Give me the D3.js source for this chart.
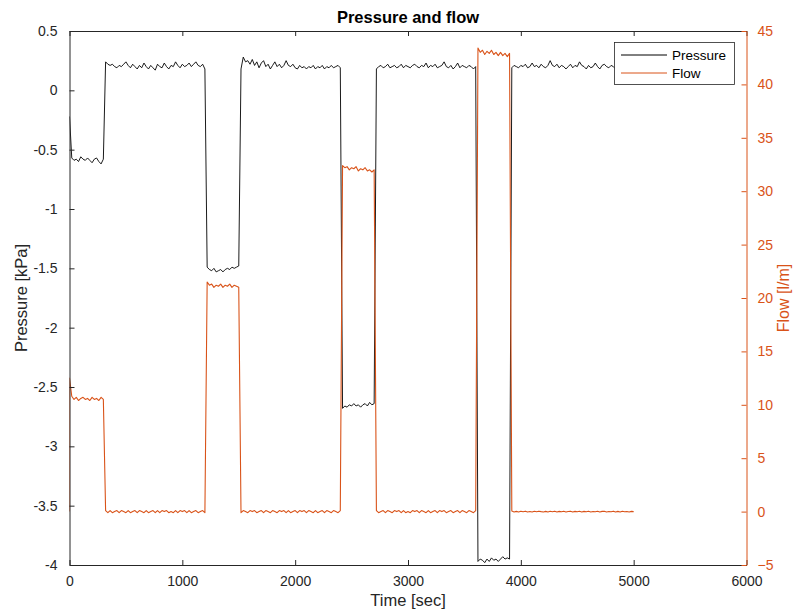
<!DOCTYPE html>
<html>
<head>
<meta charset="utf-8">
<script src="https://cdn.jsdelivr.net/npm/d3@7/dist/d3.min.js"></script>
<style>
  html, body { margin: 0; padding: 0; background: #fff; }
  svg { display: block; font-family: "Liberation Sans", Arial, Helvetica, sans-serif; }
</style>
</head>
<body>
<svg id="chart" width="793" height="612"></svg>
<script>
// ---------------- DATA ----------------
const titleText = "Pressure and flow";
const xLabel = "Time [sec]";
const yLeftLabel = "Pressure [kPa]";
const yRightLabel = "Flow [l/m]";
const seriesNames = ["Pressure", "Flow"];

const xTicks = [0, 1000, 2000, 3000, 4000, 5000, 6000];
const yLeftTicks = [-4, -3.5, -3, -2.5, -2, -1.5, -1, -0.5, 0, 0.5];
const yLeftTickLabels = ["-4", "-3.5", "-3", "-2.5", "-2", "-1.5", "-1", "-0.5", "0", "0.5"];
const yRightTicks = [-5, 0, 5, 10, 15, 20, 25, 30, 35, 40, 45];

// sampling interval of the recordings (sec)
const sampleStep = 20;

// Pressure [kPa], one sample every 20 s from t = 0 to t = 5000
const pressure = [
  -0.22,
  -0.57,-0.59,-0.58,-0.60,-0.56, -0.58,-0.59,-0.57,-0.59,-0.61, -0.58,-0.57,-0.60,-0.62,-0.58,
  0.24,0.22,0.21,0.22,0.20, 0.19,0.21,0.20,0.22,0.24, 0.21,0.19,0.22,0.20,0.18,
  0.21,0.19,0.23,0.20,0.18, 0.21,0.19,0.17,0.22,0.20, 0.19,0.23,0.20,0.18,0.21,
  0.20,0.24,0.21,0.19,0.22, 0.20,0.21,0.23,0.20,0.22, 0.24,0.21,0.20,0.22,0.18,
  -1.49,-1.51,-1.52,-1.50,-1.53, -1.52,-1.51,-1.53,-1.51,-1.50, -1.51,-1.49,-1.50,-1.49,-1.48,
  0.18,0.28,0.24,0.25,0.22, 0.26,0.21,0.24,0.19,0.23, 0.25,0.20,0.22,0.18,0.21,
  0.24,0.20,0.22,0.19,0.21, 0.25,0.21,0.20,0.22,0.19, 0.18,0.21,0.19,0.20,0.18,
  0.20,0.19,0.21,0.18,0.20, 0.19,0.21,0.18,0.20,0.19, 0.21,0.19,0.20,0.21,0.19,
  -2.68,-2.66,-2.67,-2.65,-2.66, -2.64,-2.66,-2.65,-2.67,-2.65, -2.64,-2.66,-2.63,-2.65,-2.64,
  0.18,0.20,0.21,0.19,0.20, 0.22,0.19,0.20,0.21,0.19, 0.20,0.22,0.19,0.21,0.20,
  0.19,0.21,0.22,0.20,0.19, 0.21,0.20,0.23,0.19,0.21, 0.20,0.22,0.19,0.20,0.21,
  0.24,0.20,0.19,0.21,0.18, 0.20,0.23,0.19,0.21,0.20, 0.19,0.21,0.20,0.18,0.20,
  -3.97,-3.95,-3.96,-3.98,-3.95, -3.97,-3.94,-3.96,-3.95,-3.97, -3.95,-3.93,-3.95,-3.94,-3.95,
  0.19,0.21,0.20,0.19,0.21, 0.20,0.22,0.19,0.20,0.23, 0.20,0.21,0.19,0.22,0.20,
  0.19,0.21,0.25,0.21,0.20, 0.22,0.19,0.21,0.20,0.18, 0.20,0.22,0.19,0.21,0.20,
  0.24,0.21,0.20,0.18,0.21, 0.19,0.20,0.23,0.20,0.18, 0.21,0.22,0.20,0.19,0.21,
  0.20,0.18,0.21,0.20,0.22, 0.19,0.21,0.20,0.19,0.20
];

// Flow [l/m]: value at the very start of the record (before the first sample settles)
const flowStart = 0;
// Flow [l/m], one sample every 20 s from t = 0 to t = 5000
const flow = [
  12.5,
  10.8,10.5,10.7,10.4,10.6, 10.7,10.5,10.6,10.4,10.7, 10.5,10.6,10.4,10.7,10.5,
  0.1,-0.1,0.1,-0.1,0.0, 0.1,-0.1,0.1,0.0,-0.1, 0.1,-0.1,0.0,0.1,-0.1,
  0.1,0.0,-0.1,0.1,-0.1, 0.0,0.1,-0.1,0.1,-0.1, 0.1,0.0,0.1,-0.1,0.0,
  -0.1,0.1,-0.1,0.1,0.0, 0.1,-0.1,0.1,-0.1,0.0, 0.1,-0.1,0.0,0.1,-0.1,
  21.5,21.2,21.3,21.0,21.2, 21.1,21.3,21.0,21.2,21.1, 21.3,21.0,21.2,21.1,21.0,
  -0.1,0.1,0.0,-0.1,0.1, 0.0,0.1,-0.1,0.0,0.1, -0.1,0.1,0.0,-0.1,0.1,
  0.0,-0.1,0.1,0.0,0.1, -0.1,0.1,-0.1,0.0,0.1, -0.1,0.1,0.0,0.1,-0.1,
  0.1,0.0,-0.1,0.1,-0.1, 0.0,0.1,-0.1,0.1,0.0, -0.1,0.1,0.0,-0.1,0.1,
  32.4,32.2,32.3,32.0,32.2, 32.1,32.3,31.9,32.1,32.0, 32.2,31.9,32.0,31.8,32.0,
  0.1,-0.1,0.0,0.1,-0.1, 0.1,0.0,-0.1,0.1,0.0, 0.1,-0.1,0.1,-0.1,0.0,
  -0.1,0.1,0.0,0.1,-0.1, 0.1,0.0,-0.1,0.1,-0.1, 0.0,0.1,-0.1,0.1,0.0,
  0.1,-0.1,0.0,0.1,-0.1, 0.0,0.1,-0.1,0.1,0.0, -0.1,0.1,0.0,-0.1,0.1,
  43.4,43.0,43.2,42.8,43.1, 42.9,43.2,42.8,43.0,42.7, 43.0,42.7,42.9,42.6,42.9,
  0.05,-0.03,0.02,-0.04,0.03, -0.02,0.04,-0.03,0.01,-0.04, 0.03,-0.02,0.04,0.00,-0.03,
  0.02,-0.04,0.03,-0.01,0.04, -0.03,0.02,-0.02,0.03,-0.04, 0.01,0.04,-0.03,0.02,-0.02,
  0.03,-0.04,0.02,-0.01,0.04, -0.03,0.01,-0.02,0.03,-0.04, 0.02,0.03,-0.03,0.01,-0.02,
  0.04,-0.03,0.02,-0.04,0.03, -0.02,0.01,-0.03,0.02,0.00
];

// ---------------- DRAWING ----------------
const W = 793, H = 612;
const plot = { left: 69.5, right: 746.5, top: 31, bottom: 565 };
const axisColor = "#262626";
const flowColor = "#D95319";
const pressureColor = "#000000";
const tickLen = 5;

const svg = d3.select("#chart");

const x = d3.scaleLinear().domain([0, 6000]).range([plot.left, plot.right]);
const yL = d3.scaleLinear().domain([-4, 0.5]).range([plot.bottom, plot.top]);
const yR = d3.scaleLinear().domain([-5, 45]).range([plot.bottom, plot.top]);

const pData = pressure.map((v, i) => [i * sampleStep, v]);
const fData = [[0, flowStart]].concat(flow.map((v, i) => [i * sampleStep, v]));

svg.append("defs").append("clipPath").attr("id", "clip")
  .append("rect")
  .attr("x", plot.left).attr("y", plot.top)
  .attr("width", plot.right - plot.left).attr("height", plot.bottom - plot.top);

const gData = svg.append("g").attr("clip-path", "url(#clip)");

gData.append("path")
  .datum(pData)
  .attr("fill", "none")
  .attr("stroke", pressureColor)
  .attr("stroke-width", 0.9)
  .attr("stroke-linejoin", "round")
  .attr("d", d3.line().x(d => x(d[0])).y(d => yL(d[1])));

gData.append("path")
  .datum(fData)
  .attr("fill", "none")
  .attr("stroke", flowColor)
  .attr("stroke-width", 1.1)
  .attr("stroke-linejoin", "round")
  .attr("d", d3.line().x(d => x(d[0])).y(d => yR(d[1])));

// Axes (MATLAB style: ticks inside)
const fontTick = 14;

const gBottom = svg.append("g").attr("transform", `translate(0,${plot.bottom})`)
  .call(d3.axisBottom(x).tickValues(xTicks).tickSizeInner(-tickLen).tickSizeOuter(0).tickPadding(11).tickFormat(d3.format("d")));
gBottom.select(".domain").attr("stroke", axisColor);
gBottom.selectAll(".tick line").attr("stroke", axisColor);
gBottom.selectAll(".tick text").attr("fill", axisColor).attr("font-size", fontTick)
  .attr("font-family", "Liberation Sans, Arial, sans-serif");

const gTop = svg.append("g").attr("transform", `translate(0,${plot.top})`)
  .call(d3.axisTop(x).tickValues(xTicks).tickSizeInner(-tickLen).tickSizeOuter(0).tickFormat(""));
gTop.select(".domain").attr("stroke", axisColor);
gTop.selectAll(".tick line").attr("stroke", axisColor);

const gLeft = svg.append("g").attr("transform", `translate(${plot.left},0)`)
  .call(d3.axisLeft(yL).tickValues(yLeftTicks).tickSizeInner(-tickLen).tickSizeOuter(0).tickPadding(12)
    .tickFormat((d, i) => yLeftTickLabels[i]));
gLeft.select(".domain").attr("stroke", axisColor);
gLeft.selectAll(".tick line").attr("stroke", axisColor);
gLeft.selectAll(".tick text").attr("fill", axisColor).attr("font-size", fontTick)
  .attr("font-family", "Liberation Sans, Arial, sans-serif");

const gRight = svg.append("g").attr("transform", `translate(${plot.right},0)`)
  .call(d3.axisRight(yR).tickValues(yRightTicks).tickSizeInner(-tickLen).tickSizeOuter(0).tickPadding(11).tickFormat(d3.format("d")));
gRight.select(".domain").attr("stroke", flowColor);
gRight.selectAll(".tick line").attr("stroke", flowColor);
gRight.selectAll(".tick text").attr("fill", flowColor).attr("font-size", fontTick)
  .attr("font-family", "Liberation Sans, Arial, sans-serif");

// Title
svg.append("text")
  .attr("x", (plot.left + plot.right) / 2).attr("y", 23)
  .attr("text-anchor", "middle")
  .attr("font-size", 16.5).attr("font-weight", "bold").attr("fill", "#000")
  .text(titleText);

// Axis labels
svg.append("text")
  .attr("x", (plot.left + plot.right) / 2).attr("y", 606)
  .attr("text-anchor", "middle")
  .attr("font-size", 16.5).attr("fill", axisColor)
  .text(xLabel);

svg.append("text")
  .attr("transform", `translate(27,${(plot.top + plot.bottom) / 2}) rotate(-90)`)
  .attr("text-anchor", "middle")
  .attr("font-size", 16.5).attr("fill", axisColor)
  .text(yLeftLabel);

svg.append("text")
  .attr("transform", `translate(789,${(plot.top + plot.bottom) / 2}) rotate(-90)`)
  .attr("text-anchor", "middle")
  .attr("font-size", 16).attr("fill", flowColor)
  .text(yRightLabel);

// Legend
const lg = svg.append("g");
lg.append("rect")
  .attr("x", 614.5).attr("y", 42.5).attr("width", 120).attr("height", 42)
  .attr("fill", "#fff").attr("stroke", axisColor).attr("stroke-width", 0.8);
const legendColors = [pressureColor, flowColor];
seriesNames.forEach((name, i) => {
  const yy = 55 + i * 18;
  lg.append("line").attr("x1", 621).attr("x2", 667).attr("y1", yy).attr("y2", yy)
    .attr("stroke", legendColors[i]).attr("stroke-width", 1);
  lg.append("text").attr("x", 672).attr("y", yy + 5)
    .attr("font-size", 13.5).attr("fill", "#000").text(name);
});
</script>
</body>
</html>
